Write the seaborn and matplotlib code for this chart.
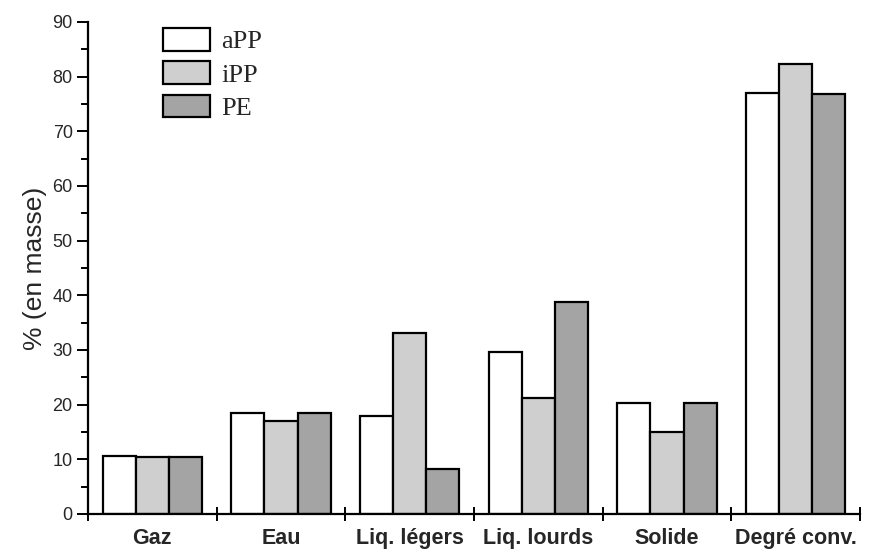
import matplotlib
matplotlib.use("Agg")
import matplotlib.pyplot as plt
import seaborn as sns
import pandas as pd
import numpy as np

categories = ["Gaz", "Eau", "Liq. légers", "Liq. lourds", "Solide", "Degré conv."]
aPP = [10.6, 18.5, 17.9, 29.6, 20.3, 77.1]
iPP = [10.4, 17.0, 33.1, 21.2, 15.0, 82.4]
PE = [10.4, 18.5, 8.2, 38.8, 20.3, 76.8]
series = ["aPP", "iPP", "PE"]
colors = ["#ffffff", "#cfcfcf", "#a4a4a4"]
y_ticks = [0, 10, 20, 30, 40, 50, 60, 70, 80, 90]

df = pd.DataFrame({
    "cat": categories * 3,
    "val": aPP + iPP + PE,
    "serie": [s for s in series for _ in categories],
})

sns.set_theme(style="ticks")
plt.rcParams["font.family"] = ["Liberation Sans", "DejaVu Sans"]

fig = plt.figure(figsize=(8.7, 5.55), dpi=100)
ax = fig.add_axes([88 / 870, 1 - 514 / 555, (860 - 88) / 870, (514 - 22) / 555])

sns.barplot(data=df, x="cat", y="val", hue="serie", order=categories,
            hue_order=series, palette=colors, edgecolor="black",
            linewidth=1.6, width=0.77, gap=0, ax=ax, legend=True)

ax.set_xlim(-0.5, len(categories) - 0.5)
ax.set_ylim(0, 90)
ax.set_yticks(y_ticks)
ax.set_yticks(np.arange(5, 90, 10), minor=True)
ax.set_yticklabels([str(t) for t in y_ticks], fontsize=13)
ax.tick_params(axis="y", which="major", direction="out", length=8, width=1.4, pad=3, color="black")
ax.tick_params(axis="y", which="minor", direction="out", length=5, width=1.4, color="black")

# x: ticks at category boundaries, labels at centers
ax.set_xticks(np.arange(-0.5, len(categories), 1.0))
ax.set_xticklabels([])
ax.set_xticks(np.arange(len(categories)), minor=True)
ax.set_xticklabels(categories, minor=True, fontsize=15.5, fontweight="bold")
ax.tick_params(axis="x", which="major", direction="inout", length=10, width=1.4, color="black")
ax.tick_params(axis="x", which="minor", length=0, pad=10)

ax.set_xlabel("")
ax.set_ylabel("% (en masse)", fontsize=19, labelpad=4)

for s in ["top", "right"]:
    ax.spines[s].set_visible(False)
for s in ["left", "bottom"]:
    ax.spines[s].set_linewidth(1.6)
    ax.spines[s].set_color("black")

leg = ax.legend(loc="upper left", bbox_to_anchor=(163 / 870, 1 - 28 / 555),
                bbox_transform=fig.transFigure, frameon=False, borderpad=0,
                borderaxespad=0, handlelength=1.8, handleheight=0.95,
                labelspacing=0.3, handletextpad=0.4,
                prop={"family": ["Liberation Serif", "DejaVu Serif"], "size": 19})
for h in leg.legend_handles:
    h.set_edgecolor("black")
    h.set_linewidth(1.6)

fig.savefig("out.png", dpi=100)
